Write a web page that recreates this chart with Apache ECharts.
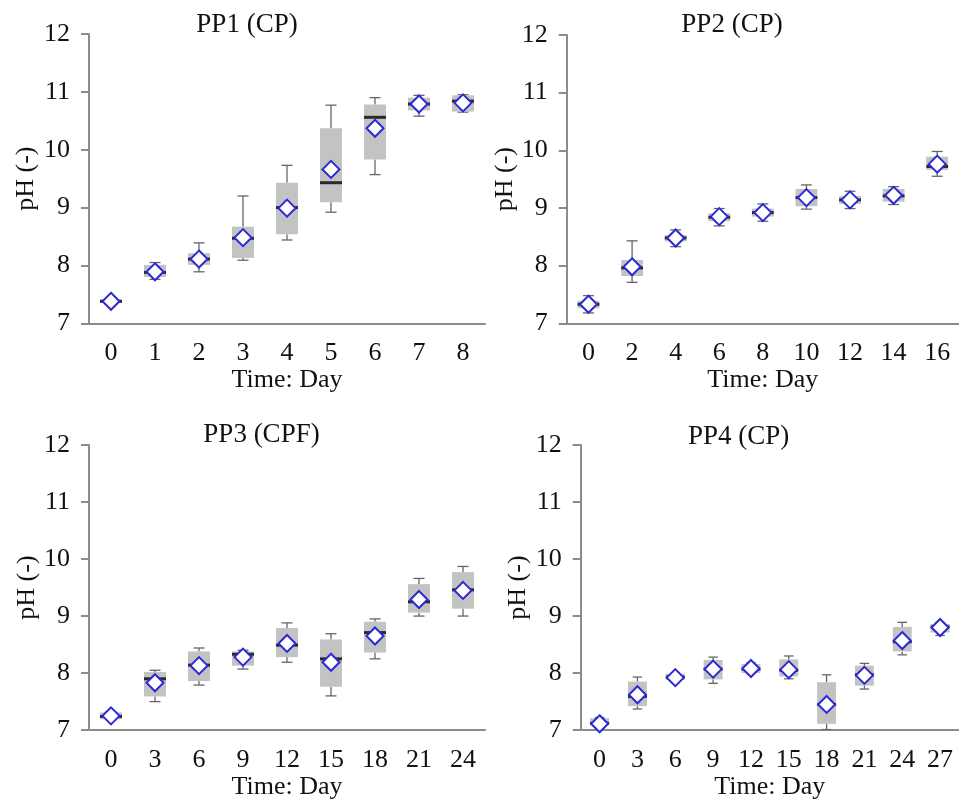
<!DOCTYPE html>
<html>
<head>
<meta charset="utf-8">
<script src="https://cdn.jsdelivr.net/npm/echarts@6/dist/echarts.min.js"></script>
<style>
  html, body { margin: 0; padding: 0; background: #fff; }
  #chart { width: 959px; height: 801px; }
</style>
</head>
<body>
<div id="chart"></div>
<script>
// pH box plots for four piles: whisker low, Q1, median, Q3, whisker high and mean per sampling day

const pp1Days = ['0', '1', '2', '3', '4', '5', '6', '7', '8'];
const pp1Low  = [7.35, 7.76, 7.89, 8.09, 8.44, 8.92, 9.57, 10.58, 10.65];
const pp1Q1   = [7.36, 7.80, 8.01, 8.13, 8.54, 9.09, 9.83, 10.68, 10.66];
const pp1Med  = [7.38, 7.88, 8.11, 8.47, 9.00, 9.43, 10.56, 10.79, 10.84];
const pp1Q3   = [7.41, 8.01, 8.21, 8.67, 9.43, 10.37, 10.78, 10.90, 10.94];
const pp1High = [7.42, 8.05, 8.39, 9.20, 9.73, 10.77, 10.90, 10.94, 10.95];
const pp1Mean = [7.38, 7.89, 8.11, 8.48, 8.99, 9.66, 10.37, 10.79, 10.81];

const pp2Days = ['0', '2', '4', '6', '8', '10', '12', '14', '16'];
const pp2Low  = [7.18, 7.71, 8.33, 8.69, 8.77, 8.98, 8.99, 9.06, 9.55];
const pp2Q1   = [7.26, 7.82, 8.42, 8.77, 8.85, 9.03, 9.07, 9.11, 9.66];
const pp2Med  = [7.33, 7.96, 8.48, 8.84, 8.92, 9.18, 9.14, 9.21, 9.72];
const pp2Q3   = [7.39, 8.10, 8.53, 8.91, 8.99, 9.33, 9.21, 9.33, 9.89];
const pp2High = [7.48, 8.43, 8.62, 8.99, 9.07, 9.40, 9.29, 9.37, 9.98];
const pp2Mean = [7.33, 7.98, 8.48, 8.85, 8.92, 9.18, 9.14, 9.22, 9.76];

const pp3Days = ['0', '3', '6', '9', '12', '15', '18', '21', '24'];
const pp3Low  = [7.18, 7.50, 7.79, 8.07, 8.19, 7.60, 8.25, 9.00, 9.00];
const pp3Q1   = [7.19, 7.59, 7.86, 8.13, 8.28, 7.76, 8.36, 9.06, 9.13];
const pp3Med  = [7.24, 7.90, 8.14, 8.33, 8.49, 8.25, 8.71, 9.25, 9.46];
const pp3Q3   = [7.31, 8.02, 8.38, 8.38, 8.79, 8.59, 8.90, 9.56, 9.77];
const pp3High = [7.32, 8.05, 8.44, 8.40, 8.88, 8.69, 8.95, 9.66, 9.87];
const pp3Mean = [7.25, 7.83, 8.13, 8.28, 8.52, 8.19, 8.65, 9.29, 9.45];

const pp4Days = ['0', '3', '6', '9', '12', '15', '18', '21', '24', '27'];
const pp4Low  = [7.09, 7.37, 7.87, 7.82, 8.00, 7.90, 7.01, 7.72, 8.32, 8.66];
const pp4Q1   = [7.10, 7.42, 7.88, 7.89, 8.00, 7.94, 7.11, 7.78, 8.38, 8.71];
const pp4Med  = [7.12, 7.59, 7.93, 8.07, 8.07, 8.05, 7.45, 7.97, 8.55, 8.81];
const pp4Q3   = [7.21, 7.85, 7.99, 8.23, 8.16, 8.24, 7.84, 8.13, 8.81, 8.86];
const pp4High = [7.22, 7.93, 8.00, 8.28, 8.18, 8.30, 7.97, 8.17, 8.89, 8.89];
const pp4Mean = [7.11, 7.62, 7.92, 8.07, 8.08, 8.06, 7.45, 7.96, 8.57, 8.80];

const yTicks = [7, 8, 9, 10, 11, 12];

const FONT = 'Liberation Serif';
const TEXT = '#111111';
const AXIS = '#8c8c8c';

const panels = [
  { title: 'PP1 (CP)',  tx: 247,   ty: 25,  days: pp1Days, lo: pp1Low, q1: pp1Q1, md: pp1Med, q3: pp1Q3, hi: pp1High, mean: pp1Mean,
    grid: { left: 89,    top: 34,  width: 396,   height: 289.3 }, xGap: 43, yGap: 50 },
  { title: 'PP2 (CP)',  tx: 732,   ty: 25,  days: pp2Days, lo: pp2Low, q1: pp2Q1, md: pp2Med, q3: pp2Q3, hi: pp2High, mean: pp2Mean,
    grid: { left: 566.7, top: 35,  width: 398.7, height: 288.3 }, xGap: 43, yGap: 47 },
  { title: 'PP3 (CPF)', tx: 261.5, ty: 435, days: pp3Days, lo: pp3Low, q1: pp3Q1, md: pp3Med, q3: pp3Q3, hi: pp3High, mean: pp3Mean,
    grid: { left: 89,    top: 445, width: 396,   height: 290 }, xGap: 43, yGap: 46 },
  { title: 'PP4 (CP)',  tx: 738.7, ty: 436.7, days: pp4Days, lo: pp4Low, q1: pp4Q1, md: pp4Med, q3: pp4Q3, hi: pp4High, mean: pp4Mean,
    grid: { left: 580.7, top: 445, width: 389,   height: 295 }, xGap: 36, yGap: 50 }
];

// Box, whiskers with caps and median bar drawn through the grid's coordinate system
function renderBox(params, api) {
  const i = api.value(0);
  const band = api.size([1, 0])[0];
  const half = band * 0.25;
  const cap = band * 0.125;
  const pLo = api.coord([i, api.value(1)]);
  const pQ1 = api.coord([i, api.value(2)]);
  const pMd = api.coord([i, api.value(3)]);
  const pQ3 = api.coord([i, api.value(4)]);
  const pHi = api.coord([i, api.value(5)]);
  const x = pMd[0];
  const wStyle = { stroke: '#666666', lineWidth: 1.3 };
  return {
    type: 'group',
    children: [
      { type: 'line', shape: { x1: x, y1: pHi[1], x2: x, y2: pQ3[1] }, style: wStyle },
      { type: 'line', shape: { x1: x, y1: pQ1[1], x2: x, y2: pLo[1] }, style: wStyle },
      { type: 'line', shape: { x1: x - cap, y1: pHi[1], x2: x + cap, y2: pHi[1] }, style: wStyle },
      { type: 'line', shape: { x1: x - cap, y1: pLo[1], x2: x + cap, y2: pLo[1] }, style: wStyle },
      { type: 'rect', shape: { x: x - half, y: pQ3[1], width: half * 2, height: Math.max(pQ1[1] - pQ3[1], 1) },
        style: { fill: '#c3c3c3' } },
      { type: 'line', shape: { x1: x - half, y1: pMd[1], x2: x + half, y2: pMd[1] },
        style: { stroke: '#2a2a2a', lineWidth: 3 } }
    ]
  };
}

const option = {
  animation: false,
  backgroundColor: '#ffffff',
  textStyle: { fontFamily: FONT },
  grid: [], xAxis: [], yAxis: [], series: [], graphic: []
};

panels.forEach((p, k) => {
  option.grid.push(Object.assign({}, p.grid));
  option.xAxis.push({
    type: 'category', gridIndex: k, data: p.days, boundaryGap: true,
    name: 'Time: Day', nameLocation: 'middle', nameGap: p.xGap,
    nameTextStyle: { fontFamily: FONT, fontSize: 26, color: TEXT },
    axisLine: { lineStyle: { color: AXIS, width: 2 } },
    axisTick: { interval: 0, length: 7, lineStyle: { color: AXIS, width: 2 } },
    axisLabel: { interval: 0, margin: 17, fontFamily: FONT, fontSize: 26, color: TEXT },
    splitLine: { show: false }
  });
  option.yAxis.push({
    type: 'value', gridIndex: k, min: yTicks[0], max: yTicks[yTicks.length - 1], interval: 1,
    name: 'pH (-)', nameLocation: 'middle', nameGap: p.yGap, nameRotate: 90,
    nameTextStyle: { fontFamily: FONT, fontSize: 26, color: TEXT },
    axisLine: { show: true, lineStyle: { color: AXIS, width: 2 } },
    axisTick: { show: true, length: 8, lineStyle: { color: AXIS, width: 2 } },
    axisLabel: { margin: 19, fontFamily: FONT, fontSize: 26, color: TEXT },
    splitLine: { show: false }
  });
  option.series.push({
    type: 'custom', xAxisIndex: k, yAxisIndex: k, z: 2,
    renderItem: renderBox,
    encode: { x: 0, y: [1, 2, 3, 4, 5] },
    data: p.days.map((d, i) => [i, p.lo[i], p.q1[i], p.md[i], p.q3[i], p.hi[i]])
  });
  option.series.push({
    type: 'scatter', xAxisIndex: k, yAxisIndex: k, z: 3,
    symbol: 'diamond', symbolSize: [17, 17],
    itemStyle: { color: '#ffffff', borderColor: '#2a2ad4', borderWidth: 2, opacity: 1 },
    data: p.days.map((d, i) => [i, p.mean[i]])
  });
  option.graphic.push({
    type: 'text', x: p.tx, y: p.ty,
    style: { text: p.title, fontFamily: FONT, fontSize: 27, fill: TEXT, align: 'center', verticalAlign: 'middle' }
  });
});

const chart = echarts.init(document.getElementById('chart'), null, { renderer: 'canvas' });
chart.setOption(option);
</script>
</body>
</html>
